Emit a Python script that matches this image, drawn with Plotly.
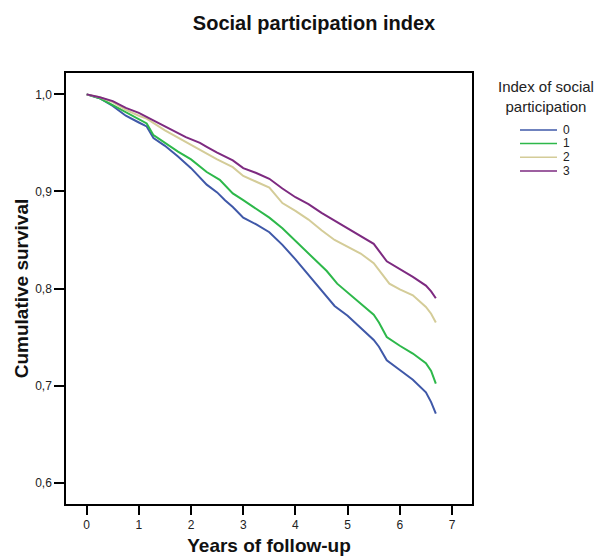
import plotly.graph_objects as go

# Years of follow-up and cumulative survival per index level
t0 = [0, 0.25, 0.5, 0.75, 1.0, 1.15, 1.28, 1.5, 1.75, 2.0, 2.3, 2.5, 2.65, 2.8, 3.0, 3.25, 3.5, 3.75,
      4.0, 4.25, 4.5, 4.75, 5.0, 5.25, 5.5, 5.6, 5.75, 6.0, 6.25, 6.5, 6.6, 6.69]
s0 = [1.0, 0.996, 0.988, 0.978, 0.971, 0.967, 0.955, 0.947, 0.936, 0.924, 0.907, 0.899, 0.891, 0.884,
      0.873, 0.866, 0.858, 0.845, 0.830, 0.814, 0.798, 0.782, 0.772, 0.760, 0.747, 0.740, 0.726, 0.716,
      0.706, 0.693, 0.683, 0.671]

t1 = [0, 0.25, 0.5, 0.75, 1.0, 1.15, 1.28, 1.5, 1.75, 2.0, 2.3, 2.55, 2.8, 3.0, 3.25, 3.5, 3.75, 4.0,
      4.3, 4.6, 4.8, 5.0, 5.25, 5.5, 5.6, 5.75, 6.0, 6.25, 6.5, 6.6, 6.69]
s1 = [1.0, 0.996, 0.989, 0.982, 0.975, 0.970, 0.958, 0.950, 0.941, 0.933, 0.920, 0.912, 0.898, 0.891,
      0.882, 0.873, 0.862, 0.849, 0.833, 0.818, 0.805, 0.796, 0.785, 0.773, 0.765, 0.750, 0.741, 0.733,
      0.723, 0.715, 0.702]

t2 = [0, 0.25, 0.5, 0.75, 1.0, 1.15, 1.5, 1.9, 2.17, 2.3, 2.5, 2.8, 3.0, 3.25, 3.5, 3.75, 4.0, 4.25,
      4.5, 4.75, 5.0, 5.25, 5.5, 5.8, 6.0, 6.25, 6.5, 6.6, 6.69]
s2 = [1.0, 0.997, 0.992, 0.984, 0.978, 0.975, 0.963, 0.951, 0.943, 0.939, 0.933, 0.925, 0.916, 0.910,
      0.904, 0.888, 0.880, 0.871, 0.860, 0.850, 0.843, 0.836, 0.826, 0.805, 0.799, 0.793, 0.781, 0.774,
      0.765]

t3 = [0, 0.25, 0.5, 0.75, 1.0, 1.15, 1.5, 1.9, 2.17, 2.3, 2.5, 2.8, 3.0, 3.25, 3.5, 3.75, 4.0, 4.25,
      4.5, 4.75, 5.0, 5.25, 5.5, 5.75, 6.0, 6.25, 6.5, 6.6, 6.69]
s3 = [1.0, 0.997, 0.993, 0.986, 0.981, 0.977, 0.967, 0.956, 0.950, 0.946, 0.940, 0.932, 0.924, 0.919,
      0.913, 0.903, 0.894, 0.887, 0.878, 0.870, 0.862, 0.854, 0.846, 0.828, 0.820, 0.812, 0.803, 0.797,
      0.790]

series_names = ["0", "1", "2", "3"]
series_colors = ["#3F58A8", "#2DB84A", "#D4CC98", "#7D2A80"]
x_ticks = [0, 1, 2, 3, 4, 5, 6, 7]
y_ticks = [0.6, 0.7, 0.8, 0.9, 1.0]

FONT = "Arial, Liberation Sans, sans-serif"
OFF = 8  # the page body has an 8 px margin; the figure is shrunk to fit the window
W, H = 605 - OFF, 556 - OFF
ML, MR, MT, MB = 66 - OFF, 133, 73 - OFF, 52
PW, PH = W - ML - MR, H - MT - MB


def px(xp):
    """window pixel x -> paper coordinate"""
    return (xp - OFF - ML) / PW


def py(yp):
    """window pixel y -> paper coordinate"""
    return (H - MB - (yp - OFF)) / PH


fig = go.Figure()
for name, xs, ys, col in zip(series_names, [t0, t1, t2, t3], [s0, s1, s2, s3], series_colors):
    fig.add_trace(go.Scatter(x=xs, y=ys, mode="lines", name=name,
                             line=dict(color=col, width=2), showlegend=False))

# Legend drawn as in the original (compact SPSS style)
annotations = [
    dict(text="Index of social<br>participation", xref="paper", yref="paper",
         x=px(546), y=py(96), xanchor="center", yanchor="middle", showarrow=False,
         align="center", font=dict(family=FONT, size=15, color="#222")),
]
shapes = []
leg_y = [130, 143.5, 157.3, 171]
for name, col, yy in zip(series_names, series_colors, leg_y):
    shapes.append(dict(type="line", xref="paper", yref="paper", x0=px(520), x1=px(557),
                       y0=py(yy), y1=py(yy), line=dict(color=col, width=1.5)))
    annotations.append(dict(text=name, xref="paper", yref="paper", x=px(561), y=py(yy),
                            xanchor="left", yanchor="middle", showarrow=False,
                            font=dict(family=FONT, size=12, color="#222")))

fig.update_layout(
    width=W, height=H,
    margin=dict(l=ML, r=MR, t=MT, b=MB, autoexpand=False),
    paper_bgcolor="white", plot_bgcolor="white",
    separators=",.",
    font=dict(family=FONT, size=12, color="#222"),
    title=dict(text="<b>Social participation index</b>", x=(314 - OFF) / W, xref="container",
               xanchor="center", y=1 - (23 - OFF) / H, yref="container", yanchor="middle",
               font=dict(size=20, color="#111")),
    showlegend=False,
    annotations=annotations,
    shapes=shapes,
)

fig.update_xaxes(range=[-0.396, 7.383], tickvals=x_ticks,
                 ticks="outside", ticklen=9, tickwidth=1.5, tickcolor="black",
                 showline=True, linecolor="black", linewidth=1.5, mirror=True,
                 showgrid=False, zeroline=False, automargin=False,
                 tickfont=dict(size=12, color="#222"),
                 title=dict(text="<b>Years of follow-up</b>", font=dict(size=19, color="#111"), standoff=9))
fig.update_yaxes(range=[0.578, 1.022], tickvals=y_ticks, tickformat=".1f",
                 ticks="outside", ticklen=10, tickwidth=1.5, tickcolor="black",
                 showline=True, linecolor="black", linewidth=1.5, mirror=True,
                 showgrid=False, zeroline=False, automargin=False,
                 tickfont=dict(size=12, color="#222"),
                 title=dict(text="<b>Cumulative survival</b>", font=dict(size=19, color="#111"), standoff=2))

fig.write_html("out.html")
